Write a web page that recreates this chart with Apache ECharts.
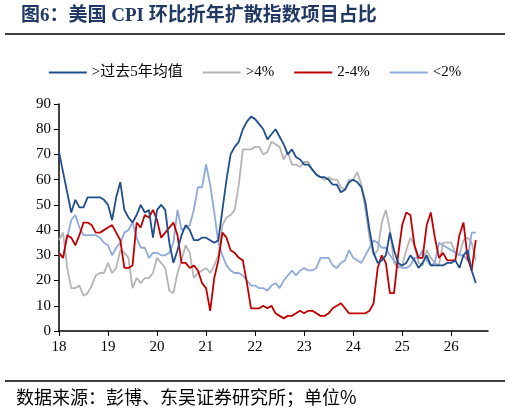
<!DOCTYPE html>
<html><head><meta charset="utf-8">
<script src="https://cdn.jsdelivr.net/npm/echarts@6/dist/echarts.min.js"></script>
<style>html,body{margin:0;padding:0;background:#fff}#c{width:510px;height:414px}</style>
</head><body><div id="c"></div>
<script>
const yearLabels = ['18','19','20','21','22','23','24','25','26'];
const seriesNames = ['>过去5年均值','>4%','2-4%','<2%'];
const aboveAvg = [71,63,55,47,52,49,49,53,53,53,53,52,
50,44,53,59,48,45,43,46,50,47,48,37,
48,50,48,35,27,32,38,42,40,36,36,37,
37,36,35,36,48,60,70,73,75,80,83,85,
84,82,80,76,78,80,77,74,70,72,69,68,
66,66,64,62,61,61,60,58,58,55,56,59,
60,59,57,51,40,31,27,28,30,39,32,27,
26,27,30,28,25,27,30,26,26,26,26,27,
27,28,25,30,32,24,19];
const above4 = [36,39,25,17,17,18,14,15,18,22,23,23,
27,23,25,32,31,29,17,21,19,21,21,23,
29,27,25,16,15,23,28,34,31,21,23,24,
25,23,26,30,42,45,46,48,58,72,72,72,
73,73,70,71,75,74,73,68,71,66,66,65,
67,67,64,62,61,60,61,60,60,57,56,60,
60,63,58,48,37,30,32,43,48,40,27,25,
26,32,37,34,27,26,32,29,27,26,35,35,
35,31,30,36,37,35,28];
const mid24 = [31,29,38,37,34,38,43,43,42,39,39,40,
41,42,39,36,25,25,26,43,41,46,45,48,
44,37,39,41,43,38,27,27,25,26,24,19,
17,8,21,28,39,37,32,31,29,28,19,9,
9,9,10,9,10,7,6,5,6,6,7,8,
7,8,8,7,6,6,7,9,10,11,9,7,
7,7,7,7,8,11,25,30,27,15,15,30,
42,47,46,34,29,29,42,47,37,29,31,28,
28,28,38,43,29,24,36];
const below2 = [31,29,37,44,46,41,38,38,38,38,37,35,
34,30,33,35,39,40,43,37,33,33,29,31,
31,30,30,31,35,48,40,41,42,48,57,57,
66,58,47,35,30,26,24,23,23,22,20,18,
18,17,17,16,18,19,17,20,22,24,22,24,
25,24,24,25,29,29,29,26,25,27,28,32,
29,28,27,30,33,36,35,33,33,30,28,26,
25,25,26,29,29,32,28,26,27,35,34,33,
32,31,30,30,28,39,39];
const colors = ['#1f4e8c','#b4b4b4','#c00000','#8eaadb'];
const datasets = [aboveAvg, above4, mid24, below2];
const serif = '"Liberation Serif","Noto Sans CJK SC",serif';
const chart = echarts.init(document.getElementById('c'));
chart.setOption({
  animation:false,
  title:{text:'图6：美国 CPI 环比折年扩散指数项目占比',left:16,top:2,
    textStyle:{fontSize:19,fontWeight:'bold',color:'#1f3864',fontFamily:serif}},
  graphic:[
    {type:'line',shape:{x1:5,y1:34,x2:505,y2:34},style:{stroke:'#000',lineWidth:1.5}},
    {type:'line',shape:{x1:5,y1:381,x2:505,y2:381},style:{stroke:'#000',lineWidth:1.5}},
    {type:'text',left:16,top:388,style:{text:'数据来源：彭博、东吴证券研究所；单位%',fontSize:18,fill:'#000',fontFamily:'"Noto Sans CJK SC"'}}
  ],
  legend:{top:60,left:'center',itemWidth:38,itemHeight:2,itemGap:20,icon:'rect',
    textStyle:{fontSize:15,color:'#000',fontFamily:serif},data:seriesNames},
  grid:{left:59,right:22,top:104,bottom:83},
  xAxis:{type:'value',min:0,max:105,interval:12,
    axisLine:{lineStyle:{color:'#000',width:1.5}},
    axisTick:{show:true,length:5,lineStyle:{color:'#000'}},
    axisLabel:{showMaxLabel:false,fontSize:15,color:'#000',fontFamily:serif,margin:9,
      formatter:v=>yearLabels[Math.round(v/12)]||''},
    splitLine:{show:false}},
  yAxis:{type:'value',min:0,max:90,interval:10,
    axisLine:{show:true,lineStyle:{color:'#000',width:1.5}},
    axisTick:{show:true,length:5,lineStyle:{color:'#000'}},
    axisLabel:{fontSize:15,color:'#000',fontFamily:serif},
    splitLine:{show:false}},
  series:datasets.map((d,i)=>({name:seriesNames[i],type:'line',showSymbol:false,
    data:d.map((v,j)=>[j,v]),lineStyle:{width:1.8,color:colors[i]},itemStyle:{color:colors[i]},z:[4,1,3,2][i]}))
});
</script></body></html>
